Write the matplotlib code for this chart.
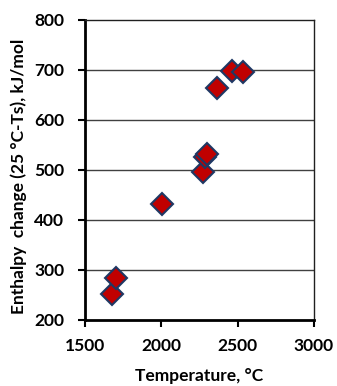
import matplotlib as mpl
mpl.use("Agg")
from matplotlib import pyplot as plt

temperature = [1677, 1702, 2002, 2270, 2283, 2300, 2362, 2465, 2535]
enthalpy = [253, 285, 432, 496, 527, 532, 665, 698, 696]

x_ticks = [1500, 2000, 2500, 3000]
y_ticks = [200, 300, 400, 500, 600, 700, 800]

plt.rcParams["font.family"] = ["Lato", "DejaVu Sans"]
plt.rcParams["font.weight"] = "bold"

fig = plt.figure(figsize=(3.37, 3.86), dpi=100)
ax = fig.add_axes([85 / 337, 1 - 320 / 386, 229 / 337, 300 / 386])

for y in y_ticks[1:-1]:
    ax.axhline(y, color="#404040", lw=1.0, zorder=1)

ax.plot(temperature, enthalpy, "D", ms=11, mfc="#C00000", mec="#1F3864",
        mew=1.5, ls="none", zorder=3, clip_on=False)

ax.set_xlim(1500, 3000)
ax.set_ylim(200, 800)
ax.set_xticks(x_ticks)
ax.set_yticks(y_ticks)

for side in ["left", "bottom"]:
    ax.spines[side].set_linewidth(2.0)
for side in ["top", "right"]:
    ax.spines[side].set_linewidth(1.0)
    ax.spines[side].set_color("#202020")

ax.tick_params(direction="out", length=5, width=1.5, labelsize=12.5)
ax.tick_params(axis="y", pad=10)
ax.tick_params(axis="x", pad=8)
for lab in ax.get_xticklabels() + ax.get_yticklabels():
    lab.set_fontweight("bold")

ax.set_xlabel("Temperature, °C", fontsize=12.5, fontweight="bold", labelpad=10)
ax.set_ylabel("Enthalpy  change (25 °C-Ts), kJ/mol", fontsize=12.5,
              fontweight="bold")
ax.yaxis.set_label_coords(-58 / 229, 0.48)

fig.savefig("out.png", dpi=100)
